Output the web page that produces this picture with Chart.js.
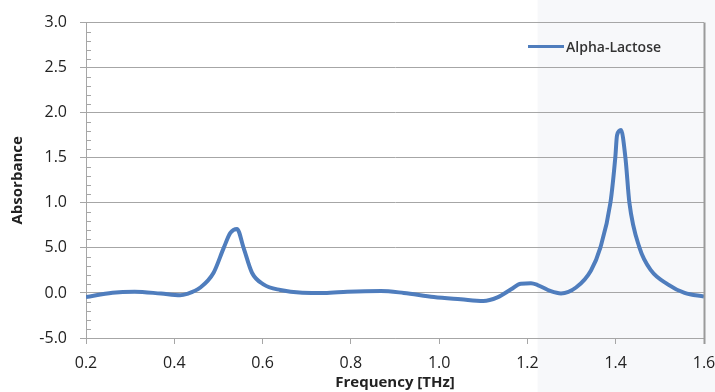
<!DOCTYPE html>
<html>
<head>
<meta charset="utf-8">
<script src="https://cdn.jsdelivr.net/npm/chart.js@4/dist/chart.umd.min.js"></script>
<style>
html,body{margin:0;padding:0;background:#fff;}
#wrap{position:relative;width:715px;height:392px;}
canvas{display:block;}
</style>
</head>
<body>
<div id="wrap"><canvas id="c" width="715" height="392"></canvas></div>
<script>
const seriesLabel = 'Alpha-Lactose';
const frequency = [0.2,0.26,0.31,0.37,0.413,0.429,0.459,0.489,0.512,0.527,0.542,0.557,0.576,0.602,0.64,0.69,0.74,0.792,0.868,0.92,0.988,1.049,1.1,1.132,1.163,1.185,1.208,1.223,1.253,1.276,1.31,1.344,1.365,1.388,1.399,1.403,1.412,1.422,1.431,1.454,1.48,1.518,1.556,1.6];
const absorbance = [-0.045,0.003,0.014,-0.007,-0.025,-0.01,0.06,0.224,0.5,0.666,0.71,0.5,0.224,0.096,0.033,0.003,0.0,0.014,0.022,0.0,-0.044,-0.07,-0.09,-0.05,0.04,0.103,0.107,0.088,0.02,-0.005,0.06,0.25,0.5,1.0,1.5,1.75,1.807,1.5,1.0,0.5,0.25,0.096,0.0,-0.04];
const xTickLabels = ['0.2','0.4','0.6','0.8','1.0','1.2','1.4','1.6'];
const yTickLabels = ['-5.0','0.0','5.0','1.0','1.5','2.0','2.5','3.0'];
const xTitle = 'Frequency [THz]';
const yTitle = 'Absorbance';

const FONT = '"Open Sans", sans-serif';
const GRID = '#a6a6a6';
const LINE = '#4f7dbd';

const tintPlugin = {
  id: 'tint',
  beforeDraw(chart) {
    const ctx = chart.ctx;
    const xs = chart.scales.x;
    const x0 = xs.getPixelForValue(1.223);
    ctx.save();
    ctx.fillStyle = '#f7f8fa';
    ctx.fillRect(x0, 0, chart.width - x0, chart.height);
    ctx.restore();
  }
};

const extrasPlugin = {
  id: 'extras',
  afterDraw(chart) {
    const ctx = chart.ctx;
    const ys = chart.scales.y;
    const ca = chart.chartArea;
    ctx.save();
    ctx.strokeStyle = GRID;
    ctx.lineWidth = 1;
    // minor ticks
    for (let i = -5; i <= 30; i++) {
      if (i % 5 === 0) continue;
      const py = Math.round(ys.getPixelForValue(i / 10)) + 0.5;
      ctx.beginPath();
      ctx.moveTo(ca.left, py);
      ctx.lineTo(ca.left + 5, py);
      ctx.stroke();
    }
    // right border
    const rx = Math.round(ca.right) + 0.5;
    ctx.strokeStyle = '#9a9a9a';
    ctx.lineWidth = 2;
    ctx.beginPath();
    ctx.moveTo(rx, ca.top);
    ctx.lineTo(rx, ca.bottom + 6);
    ctx.stroke();
    // legend
    const lx = ca.right - 176, ly = ca.top + 24;
    ctx.strokeStyle = LINE;
    ctx.lineWidth = 3;
    ctx.beginPath();
    ctx.moveTo(lx, ly);
    ctx.lineTo(lx + 36, ly);
    ctx.stroke();
    ctx.fillStyle = '#333';
    ctx.font = '600 14px ' + FONT;
    ctx.textBaseline = 'middle';
    ctx.textAlign = 'left';
    ctx.fillText(chart.data.datasets[0].label, lx + 38, ly + 1);
    ctx.restore();
  }
};

new Chart(document.getElementById('c'), {
  type: 'line',
  data: {
    datasets: [{
      label: seriesLabel,
      data: frequency.map((f, i) => ({x: f, y: absorbance[i]})),
      borderColor: LINE,
      borderWidth: 4,
      pointRadius: 0,
      fill: false,
      cubicInterpolationMode: 'monotone',
      tension: 0.4
    }]
  },
  options: {
    responsive: false,
    animation: false,
    layout: {padding: {left: 0, right: 11, top: 20, bottom: 0}},
    plugins: {legend: {display: false}, tooltip: {enabled: false}},
    scales: {
      x: {
        type: 'linear',
        min: 0.2, max: 1.6,
        afterFit(s) { s.height = 54; s.paddingRight = 0; s.paddingLeft = 0; },
        ticks: {
          stepSize: 0.2,
          autoSkip: false,
          maxRotation: 0,
          padding: 10,
          color: '#222',
          font: {family: FONT, size: 16},
          callback: (v, i) => xTickLabels[i]
        },
        grid: {drawOnChartArea: false, drawTicks: true, tickLength: 6, color: GRID},
        border: {color: GRID, width: 1},
        title: {display: true, text: xTitle, color: '#222', font: {family: FONT, size: 15, weight: 'bold'}, padding: {top: 3, bottom: 0}}
      },
      y: {
        min: -0.5, max: 3.0,
        afterFit(s) { s.width = 86; },
        ticks: {
          stepSize: 0.5,
          autoSkip: false,
          padding: 13,
          color: '#222',
          font: {family: FONT, size: 16},
          callback: (v, i) => yTickLabels[i]
        },
        grid: {color: GRID, lineWidth: 1, drawTicks: true, tickLength: 6},
        border: {color: GRID, width: 1},
        title: {display: true, text: yTitle, color: '#222', font: {family: FONT, size: 15, weight: 'bold'}, padding: {top: 9, bottom: 0}}
      }
    }
  },
  plugins: [tintPlugin, extrasPlugin]
});
</script>
</body>
</html>
